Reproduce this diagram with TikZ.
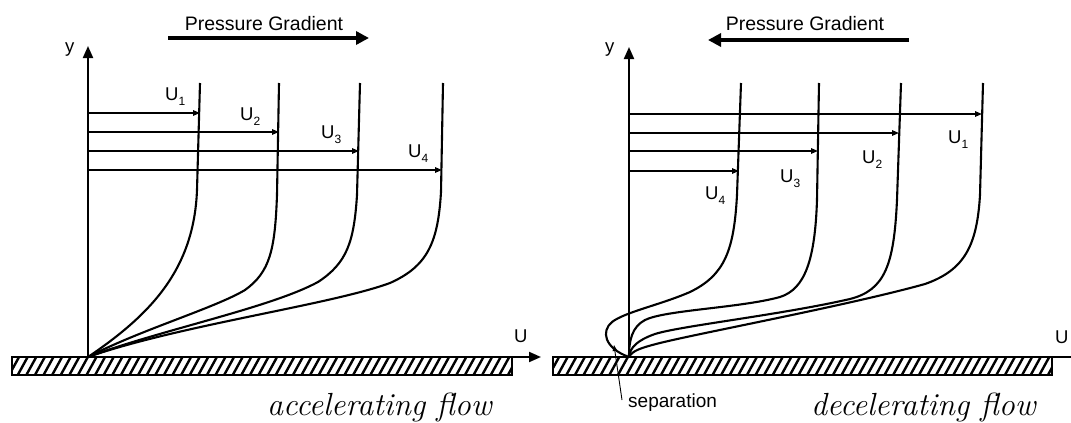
\documentclass[tikz,border=0pt]{standalone}
\usepackage{fontspec}
\newfontfamily\arial{Liberation Sans}
\usetikzlibrary{arrows.meta}
\newcommand\usub[1]{U\raisebox{-5pt}{\fontsize{12}{12}\selectfont #1}}
\tikzset{
  lbl/.style={font=\arial\fontsize{18.5}{18.5}\selectfont, inner sep=0pt, anchor=base west},
  pgtext/.style={font=\arial\fontsize{19.5}{19.5}\selectfont, inner sep=0pt, anchor=base},
  captext/.style={font=\fontsize{32}{36}\selectfont\itshape, inner sep=0pt, anchor=base west},
  prof/.style={line width=2.1pt, line join=round},
  harrow/.style={line width=1.4pt, -{Triangle[length=7pt,width=5.5pt]}},
  axisarrow/.style={line width=2pt, -{Triangle[length=12pt,width=10pt]}},
  pgarrow/.style={line width=4.5pt, -{Triangle[length=13pt,width=13pt]}},
  wallbox/.style={line width=1.6pt},
  hatchline/.style={line width=2.4pt},
}
\begin{document}
\begin{tikzpicture}[x=1pt,y=-1pt]
\useasboundingbox (0,0) rectangle (1071,423);

% ---------- walls ----------
\begin{scope}
\clip (12,357) rectangle (512,375);
\foreach \x in {0,8.6,...,520} \draw[hatchline] (\x,376) -- (\x+11,356);
\end{scope}
\draw[wallbox] (12,357) rectangle (512,375);
\begin{scope}
\clip (553,357) rectangle (1052,375);
\foreach \x in {540,548.6,...,1060} \draw[hatchline] (\x,376) -- (\x+11,356);
\end{scope}
\draw[wallbox] (553,357) rectangle (1052,375);

% ---------- left panel ----------
\coordinate (O1) at (88,357);
\coordinate (Y1) at (88,46);
\coordinate (X1) at (541,357);
\draw[axisarrow] (O1) -- (Y1);
\draw[axisarrow] (O1) -- (X1);
\node[lbl] (ylab1) at (65,52) {y};
\node[lbl] (ulab1) at (514,342) {U};

\coordinate (PGa1) at (168,38);
\coordinate (PGb1) at (369,38);
\draw[pgarrow] (PGa1) -- (PGb1);
\node[pgtext] (pg1) at (264,30) {Pressure Gradient};

\draw[prof] (200,83) -- (197,190) .. controls (194,270) and (150,315) .. (O1);
\draw[prof] (279,83) -- (277,195) .. controls (275,250) and (270,272) .. (245,290) .. controls (215,308) and (140,330) .. (O1);
\draw[prof] (360,83) -- (357,195) .. controls (354,242) and (347,263) .. (318,282) .. controls (270,308) and (160,330) .. (O1);
\draw[prof] (443,83) -- (441,192) .. controls (438,242) and (428,266) .. (390,283) .. controls (330,305) and (180,325) .. (O1);

\coordinate (a1s) at (88,113);  \coordinate (a1e) at (200,113);
\coordinate (a2s) at (88,132);  \coordinate (a2e) at (279,132);
\coordinate (a3s) at (88,151);  \coordinate (a3e) at (359,151);
\coordinate (a4s) at (88,170);  \coordinate (a4e) at (442,170);
\draw[harrow] (a1s) -- (a1e);
\draw[harrow] (a2s) -- (a2e);
\draw[harrow] (a3s) -- (a3e);
\draw[harrow] (a4s) -- (a4e);
\node[lbl] (lu1) at (165,100) {\usub{1}};
\node[lbl] (lu2) at (240,120) {\usub{2}};
\node[lbl] (lu3) at (321,138) {\usub{3}};
\node[lbl] (lu4) at (408,157) {\usub{4}};

\node[captext] (acc) at (267,415) {accelerating flow};

% ---------- right panel ----------
\coordinate (O2) at (629,357);
\coordinate (Y2) at (629,47);
\coordinate (X2) at (1071,357);
\draw[axisarrow] (O2) -- (Y2);
\draw[line width=2pt] (O2) -- (X2);
\node[lbl] (ylab2) at (605,52) {y};
\node[lbl] (ulab2) at (1055,343) {U};

\coordinate (PGa2) at (909,40);
\coordinate (PGb2) at (708,40);
\draw[pgarrow] (PGa2) -- (PGb2);
\node[pgtext] (pg2) at (805,30) {Pressure Gradient};

\draw[prof] (741,83) -- (737,195) .. controls (734,250) and (725,275) .. (690,292) .. controls (660,305) and (625,312) .. (612,322) .. controls (601,331) and (604,348) .. (O2);
\draw[prof] (819,83) -- (817,200) .. controls (815,260) and (805,289) .. (780,297) .. controls (740,308) and (665,310) .. (645,320) .. controls (632,327) and (629,340) .. (O2);
\draw[prof] (901,83) -- (897,200) .. controls (894,265) and (885,290) .. (850,299) .. controls (780,315) and (680,326) .. (655,334) .. controls (638,340) and (630,347) .. (O2);
\draw[prof] (983,83) -- (980,195) .. controls (977,245) and (965,270) .. (925,284) .. controls (850,305) and (700,333) .. (660,343) .. controls (640,348) and (632,351) .. (O2);

\coordinate (b1s) at (629,114);  \coordinate (b1e) at (982,114);
\coordinate (b2s) at (629,133);  \coordinate (b2e) at (899,133);
\coordinate (b3s) at (629,151);  \coordinate (b3e) at (818,151);
\coordinate (b4s) at (629,171);  \coordinate (b4e) at (739,171);
\draw[harrow] (b1s) -- (b1e);
\draw[harrow] (b2s) -- (b2e);
\draw[harrow] (b3s) -- (b3e);
\draw[harrow] (b4s) -- (b4e);
\node[lbl] (ru1) at (948,143) {\usub{1}};
\node[lbl] (ru2) at (862,163) {\usub{2}};
\node[lbl] (ru3) at (780,182) {\usub{3}};
\node[lbl] (ru4) at (705,199) {\usub{4}};

\node[font=\arial\fontsize{19}{19}\selectfont, inner sep=0pt, anchor=base west] (sep) at (628,407) {separation};
\coordinate (sepfoot) at (622,400);
\coordinate (septip) at (614,345);
\draw[line width=0.9pt, -{Triangle[length=6pt,width=4.5pt]}] (sepfoot) -- (septip);

\node[captext] (dec) at (811,415) {decelerating flow};
\end{tikzpicture}
\end{document}
